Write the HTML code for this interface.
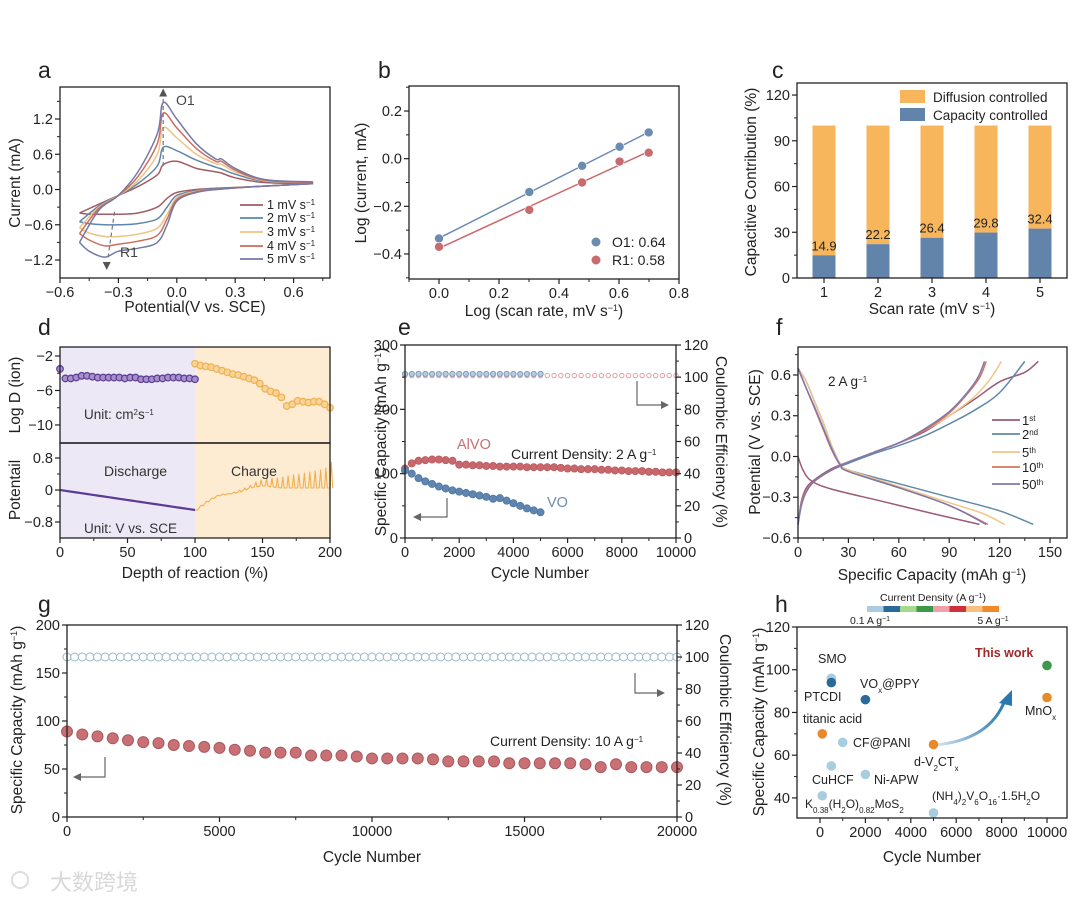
<!DOCTYPE html>
<html><head><meta charset="utf-8">
<style>
html,body{margin:0;padding:0;background:#fff;}
svg{display:block;font-family:"Liberation Sans","Noto Sans CJK SC",sans-serif;}
</style></head>
<body>
<svg id="fig" width="1080" height="903" viewBox="0 0 1080 903" xmlns="http://www.w3.org/2000/svg"></svg>
<script>
// ---------- DATA ----------
// panel a (CV)
const cvNames=['1 mV s<tspan baseline-shift="super" font-size="8">−1</tspan>','2 mV s<tspan baseline-shift="super" font-size="8">−1</tspan>','3 mV s<tspan baseline-shift="super" font-size="8">−1</tspan>','4 mV s<tspan baseline-shift="super" font-size="8">−1</tspan>','5 mV s<tspan baseline-shift="super" font-size="8">−1</tspan>'];
const cvColors=['#a35c62','#5f86aa','#ecc486','#cc6d5e','#737aa8'];
const cvUpX=[-0.5,-0.4,-0.3,-0.2,-0.1,-0.07,0,0.1,0.2,0.23,0.3,0.45,0.7];
const cvUp1=[-0.4,-0.25,-0.1,0.05,0.25,0.42,0.48,0.36,0.3,0.28,0.2,0.12,0.1];
const cvUp2=[-0.55,-0.28,-0.1,0.1,0.4,0.72,0.66,0.5,0.38,0.35,0.26,0.14,0.11];
const cvUp3=[-0.65,-0.3,-0.1,0.15,0.6,1.05,0.88,0.6,0.44,0.43,0.3,0.15,0.12];
const cvUp4=[-0.75,-0.32,-0.1,0.22,0.78,1.3,1.05,0.7,0.48,0.48,0.33,0.16,0.12];
const cvUp5=[-0.9,-0.35,-0.1,0.3,0.95,1.48,1.2,0.78,0.52,0.52,0.36,0.17,0.13];
const cvDnX=[0.7,0.4,0.2,0.1,0.0,-0.05,-0.1,-0.2,-0.3,-0.37,-0.45,-0.5];
const cvDn1=[0.1,0.05,0.02,0.0,-0.05,-0.15,-0.3,-0.4,-0.42,-0.42,-0.42,-0.4];
const cvDn2=[0.1,0.05,0.01,-0.02,-0.1,-0.3,-0.5,-0.58,-0.6,-0.6,-0.58,-0.55];
const cvDn3=[0.1,0.05,0.0,-0.03,-0.14,-0.42,-0.66,-0.76,-0.8,-0.8,-0.74,-0.65];
const cvDn4=[0.1,0.05,0.0,-0.04,-0.17,-0.5,-0.78,-0.88,-0.93,-0.96,-0.86,-0.75];
const cvDn5=[0.1,0.05,0.0,-0.05,-0.2,-0.6,-0.9,-1.0,-1.05,-1.15,-1.05,-0.9];
// panel b
const bX=[0,0.301,0.477,0.602,0.699];
const bO1=[-0.335,-0.14,-0.03,0.05,0.11];
const bR1=[-0.37,-0.215,-0.1,-0.012,0.025];
// panel c
const cRates=[1,2,3,4,5];
const cCap=[14.9,22.2,26.4,29.8,32.4];
// panel d
const dDisX=[0,4,8,12,16,20,24,28,32,36,40,44,48,52,56,60,64,68,72,76,80,84,88,92,96,100];
const dDisLogD=[-3.5,-4.6,-4.6,-4.5,-4.3,-4.3,-4.4,-4.5,-4.5,-4.5,-4.5,-4.5,-4.6,-4.5,-4.5,-4.7,-4.7,-4.7,-4.6,-4.6,-4.5,-4.5,-4.5,-4.6,-4.6,-4.7];
const dChX=[100,104,108,112,116,120,124,128,132,136,140,144,148,152,156,160,164,168,172,176,180,184,188,192,196,200];
const dChLogD=[-2.9,-3.1,-3.2,-3.3,-3.5,-3.7,-3.9,-4.1,-4.2,-4.4,-4.6,-4.8,-5.2,-5.8,-6.1,-6.3,-6.8,-7.8,-7.6,-7.2,-7.3,-7.4,-7.3,-7.3,-7.6,-8.0];
const dDisV=[0,-0.02,-0.04,-0.06,-0.08,-0.1,-0.12,-0.14,-0.16,-0.18,-0.2,-0.22,-0.24,-0.26,-0.28,-0.3,-0.32,-0.34,-0.36,-0.38,-0.4,-0.42,-0.44,-0.46,-0.48,-0.5];
const dChLow=[-0.5,-0.4,-0.3,-0.22,-0.15,-0.12,-0.1,-0.08,-0.05,0.0,0.05,0.08,0.1,0.1,0.08,0.06,0.05,0.05,0.05,0.05,0.05,0.05,0.05,0.05,0.05,0.05];
const dChHigh=[-0.5,-0.38,-0.28,-0.2,-0.13,-0.1,-0.08,-0.05,0.0,0.05,0.12,0.2,0.25,0.28,0.3,0.3,0.32,0.35,0.38,0.4,0.42,0.45,0.48,0.5,0.55,0.7];
// panel e
const eCycA=[0,250,500,750,1000,1250,1500,1750,2000,2250,2500,2750,3000,3250,3500,3750,4000,4250,4500,4750,5000,5250,5500,5750,6000,6250,6500,6750,7000,7250,7500,7750,8000,8250,8500,8750,9000,9250,9500,9750,10000];
const eAIVO=[108,116,120,121,122,122,121,120,114,114,113,113,112,112,111,111,111,111,110,110,110,110,110,109,108,108,107,107,107,106,106,105,105,104,104,104,103,103,102,102,102];
const eCycV=[0,250,500,750,1000,1250,1500,1750,2000,2250,2500,2750,3000,3250,3500,3750,4000,4250,4500,4750,5000];
const eVO=[105,100,93,88,84,80,77,74,72,70,68,66,64,61,62,58,54,50,46,43,40];
const eCEV=[102,102,102,102,102,102,102,102,102,102,102,102,102,102,102,102,102,102,102,102,102];
const eCEA=[101,101,101,101,101,101,101,101,101,101,101,101,101,101,101,101,101,101,101,101,101,101,101,101,101,101,101,101,101,101,101,101,101,101,101,101,101,101,101,101,101];
// panel f
const fNames=['1<tspan baseline-shift="super" font-size="8">st</tspan>','2<tspan baseline-shift="super" font-size="8">nd</tspan>','5<tspan baseline-shift="super" font-size="8">th</tspan>','10<tspan baseline-shift="super" font-size="8">th</tspan>','50<tspan baseline-shift="super" font-size="8">th</tspan>'];
const fColors=['#9a5a78','#5f8aa8','#f2c58a','#d4735e','#7e78b0'];
const fD1c=[0,3,8,20,50,80,108], fD1v=[0.0,-0.1,-0.18,-0.24,-0.33,-0.42,-0.5];
const fD2c=[0,5,10,15,20,25,30,60,90,120,140], fD2v=[0.65,0.55,0.4,0.25,0.08,-0.05,-0.1,-0.2,-0.3,-0.4,-0.5];
const fD5c=[0,5,10,15,20,25,30,60,90,110,123], fD5v=[0.65,0.55,0.4,0.25,0.08,-0.05,-0.1,-0.22,-0.34,-0.42,-0.5];
const fD10c=[0,5,10,15,20,25,30,60,90,113], fD10v=[0.65,0.5,0.35,0.2,0.05,-0.06,-0.11,-0.23,-0.36,-0.5];
const fD50c=[0,5,10,15,20,25,30,60,90,112], fD50v=[0.65,0.5,0.36,0.21,0.06,-0.06,-0.11,-0.23,-0.36,-0.5];
const fC1c=[0,2,5,10,20,30,45,60,75,90,105,120,135,143], fC1v=[-0.5,-0.33,-0.23,-0.17,-0.09,-0.04,0.03,0.1,0.18,0.3,0.42,0.55,0.62,0.7];
const fC2c=[0,2,5,10,20,30,45,60,75,90,105,120,135], fC2v=[-0.5,-0.35,-0.25,-0.18,-0.1,-0.05,0.02,0.08,0.15,0.24,0.34,0.47,0.7];
const fC5c=[0,2,5,10,20,30,45,60,75,90,105,115,121], fC5v=[-0.5,-0.35,-0.25,-0.18,-0.1,-0.04,0.03,0.1,0.19,0.3,0.44,0.58,0.7];
const fC10c=[0,2,5,10,20,30,45,60,75,90,100,108,112], fC10v=[-0.5,-0.35,-0.25,-0.18,-0.1,-0.04,0.03,0.1,0.19,0.32,0.45,0.58,0.7];
const fC50c=[0,2,5,10,20,30,45,60,75,90,100,107,111], fC50v=[-0.5,-0.36,-0.26,-0.18,-0.1,-0.04,0.03,0.1,0.2,0.33,0.46,0.58,0.7];
// panel g
const gCyc=[0,500,1000,1500,2000,2500,3000,3500,4000,4500,5000,5500,6000,6500,7000,7500,8000,8500,9000,9500,10000,10500,11000,11500,12000,12500,13000,13500,14000,14500,15000,15500,16000,16500,17000,17500,18000,18500,19000,19500,20000];
const gCap=[89,86,84,82,80,78,77,75,74,73,72,70,69,67,67,67,64,64,64,63,61,61,61,61,60,58,58,58,58,56,56,56,56,56,55,52,55,52,52,52,52];
const gCECyc=[0,250,500,750,1000,1250,1500,1750,2000,2250,2500,2750,3000,3250,3500,3750,4000,4250,4500,4750,5000,5250,5500,5750,6000,6250,6500,6750,7000,7250,7500,7750,8000,8250,8500,8750,9000,9250,9500,9750,10000,10250,10500,10750,11000,11250,11500,11750,12000,12250,12500,12750,13000,13250,13500,13750,14000,14250,14500,14750,15000,15250,15500,15750,16000,16250,16500,16750,17000,17250,17500,17750,18000,18250,18500,18750,19000,19250,19500,19750,20000];
const gCE=[100,100,100,100,100,100,100,100,100,100,100,100,100,100,100,100,100,100,100,100,100,100,100,100,100,100,100,100,100,100,100,100,100,100,100,100,100,100,100,100,100,100,100,100,100,100,100,100,100,100,100,100,100,100,100,100,100,100,100,100,100,100,100,100,100,100,100,100,100,100,100,100,100,100,100,100,100,100,100,100,100];
// panel h
const hNames=['SMO','PTCDI','VOx@PPY','titanic acid','CF@PANI','d-V2CTx','CuHCF','Ni-APW','K-MoS2','NH4-VO','This work','MnOx'];
const hCycles=[500,500,2000,100,1000,5000,500,2000,100,5000,10000,10000];
const hCaps=[96,94,86,70,66,65,55,51,41,33,102,87];
const hColors=['#a8cce0','#2a6a9a','#2a6a9a','#e88a2a','#a8cce0','#e88a2a','#a8cce0','#a8cce0','#a8cce0','#a8cce0','#3a9a48','#e88a2a'];
const cbColors=['#a8cce0','#2a6a9a','#a8d88a','#3a9a48','#f0a0a8','#d0303a','#f8c080','#f08a2a'];

// ---------- HELPERS ----------
const NS='http://www.w3.org/2000/svg';
const svg=document.getElementById('fig');
function mk(tag,attrs,name,parent){
  const e=document.createElementNS(NS,tag);
  for(const k in attrs) e.setAttribute(k,attrs[k]);
  
  
  (parent||svg).appendChild(e);return e;
}
function txt(x,y,s,size,name,opt){
  opt=opt||{};
  const t=mk('text',{x:x,y:y,'font-size':size,fill:opt.fill||'#222','text-anchor':opt.anchor||'start','font-weight':opt.weight||'normal'},name);
  if(opt.rot) t.setAttribute('transform','rotate('+opt.rot+' '+x+' '+y+')');
  t.innerHTML=s;return t;
}
function axes(x0,x1,y0,y1,xa,xb,ya,yb){
  return {x0,x1,y0,y1,sx:v=>x0+(v-xa)/(xb-xa)*(x1-x0),sy:v=>y1-(v-ya)/(yb-ya)*(y1-y0)};
}
function frame(P,name){mk('rect',{x:P.x0,y:P.y0,width:P.x1-P.x0,height:P.y1-P.y0,fill:'none',stroke:'#222','stroke-width':1.3},name);}
function xTicks(P,vals,labels,name,minor){
  vals.forEach((v,i)=>{const x=P.sx(v);
    mk('line',{x1:x,y1:P.y1,x2:x,y2:P.y1+5,stroke:'#222','stroke-width':1.2},name+'-tick');
    txt(x,P.y1+19,labels[i],14.5,name+'-label',{anchor:'middle'});});
  (minor||[]).forEach(v=>{const x=P.sx(v);mk('line',{x1:x,y1:P.y1,x2:x,y2:P.y1+3,stroke:'#222','stroke-width':1},name+'-minor-tick');});
}
function yTicks(P,vals,labels,name,minor,right){
  vals.forEach((v,i)=>{const y=P.sy(v);const xx=right?P.x1:P.x0;const d=right?5:-5;
    mk('line',{x1:xx,y1:y,x2:xx+d,y2:y,stroke:'#222','stroke-width':1.2},name+'-tick');
    txt(xx+(right?8:-7),y+5,labels[i],14.5,name+'-label',{anchor:right?'start':'end'});});
  (minor||[]).forEach(v=>{const y=P.sy(v);const xx=right?P.x1:P.x0;mk('line',{x1:xx,y1:y,x2:xx+(right?3:-3),y2:y,stroke:'#222','stroke-width':1},name+'-minor-tick');});
}
function poly(P,xs,ys,color,name,w){
  const pts=xs.map((x,i)=>P.sx(x).toFixed(1)+','+P.sy(ys[i]).toFixed(1)).join(' ');
  return mk('polyline',{points:pts,fill:'none',stroke:color,'stroke-width':w||1.4,'stroke-linejoin':'round'},name);
}
function smooth(P,xs,ys,color,name,w){
  const p=xs.map((x,i)=>[P.sx(x),P.sy(ys[i])]);
  let d='M'+p[0][0].toFixed(1)+','+p[0][1].toFixed(1);
  for(let i=0;i<p.length-1;i++){const a=p[i-1]||p[i],b=p[i],c=p[i+1],e=p[i+2]||c;
    d+=' C'+(b[0]+(c[0]-a[0])/6).toFixed(1)+','+(b[1]+(c[1]-a[1])/6).toFixed(1)+' '+(c[0]-(e[0]-b[0])/6).toFixed(1)+','+(c[1]-(e[1]-b[1])/6).toFixed(1)+' '+c[0].toFixed(1)+','+c[1].toFixed(1);}
  return mk('path',{d:d,fill:'none',stroke:color,'stroke-width':w||1.4},name);
}
function arrowHead(x,y,dir,color,name){
  const s=5;let pts;
  if(dir==='r')pts=[[x,y],[x-s*1.6,y-s*0.8],[x-s*1.6,y+s*0.8]];
  if(dir==='l')pts=[[x,y],[x+s*1.6,y-s*0.8],[x+s*1.6,y+s*0.8]];
  if(dir==='u')pts=[[x,y],[x-s*0.8,y+s*1.6],[x+s*0.8,y+s*1.6]];
  if(dir==='d')pts=[[x,y],[x-s*0.8,y-s*1.6],[x+s*0.8,y-s*1.6]];
  mk('polygon',{points:pts.map(p=>p.join(',')).join(' '),fill:color},name);
}
function letter(x,y,s){txt(x,y,s,23,'panel-label-'+s);}

// ---------- PANEL A ----------
letter(38,78,'a');
const A=axes(60,330,87,278,-0.6,0.787,-1.506,1.745);
const upSets=[cvUp1,cvUp2,cvUp3,cvUp4,cvUp5], dnSets=[cvDn1,cvDn2,cvDn3,cvDn4,cvDn5];
upSets.forEach((u,i)=>{smooth(A,cvUpX,u,cvColors[i],'cv-anodic-'+(i+1),1.5);smooth(A,cvDnX,dnSets[i],cvColors[i],'cv-cathodic-'+(i+1),1.5);});
mk('line',{x1:A.sx(-0.07),y1:A.sy(0.4),x2:A.sx(-0.07),y2:A.sy(1.6),stroke:'#6a7590','stroke-width':1.2,'stroke-dasharray':'4,3'},'o1-shift-line');
arrowHead(A.sx(-0.07),A.sy(1.72),'u','#555','o1-arrow');
mk('line',{x1:A.sx(-0.32),y1:A.sy(-0.38),x2:A.sx(-0.355),y2:A.sy(-1.2),stroke:'#6a7590','stroke-width':1.2,'stroke-dasharray':'4,3'},'r1-shift-line');
arrowHead(A.sx(-0.36),A.sy(-1.37),'d','#555','r1-arrow');
txt(176,105,'O1',14,'o1-label',{fill:'#444'});
txt(120,257,'R1',14,'r1-label',{fill:'#444'});
frame(A,'panel-a-frame');
xTicks(A,[-0.6,-0.3,0,0.3,0.6],['−0.6','−0.3','0.0','0.3','0.6'],'a-x',[-0.45,-0.15,0.15,0.45,0.75]);
yTicks(A,[-1.2,-0.6,0,0.6,1.2],['−1.2','−0.6','0.0','0.6','1.2'],'a-y',[-0.9,-0.3,0.3,0.9,1.5]);
txt(195,312,'Potential(V vs. SCE)',15.5,'a-x-title',{anchor:'middle'});
txt(20,183,'Current (mA)',15.5,'a-y-title',{anchor:'middle',rot:-90});
[205,218,232,246,259].forEach((y,i)=>{mk('line',{x1:240,y1:y,x2:263,y2:y,stroke:cvColors[i],'stroke-width':1.8},'a-legend-line-'+(i+1));txt(267,y+4,cvNames[i],12.5,'a-legend-entry-'+(i+1));});

// ---------- PANEL B ----------
letter(378,78,'b');
const B=axes(409,679,86,279,-0.1,0.8,-0.505,0.305);
function fitLine(xs,ys){const n=xs.length,mx=xs.reduce((a,b)=>a+b)/n,my=ys.reduce((a,b)=>a+b)/n;let sxy=0,sxx=0;xs.forEach((x,i)=>{sxy+=(x-mx)*(ys[i]-my);sxx+=(x-mx)*(x-mx);});const k=sxy/sxx;return [k,my-k*mx];}
[[bO1,'#6a8cb0','o1'],[bR1,'#c86a6e','r1']].forEach(([ys,c,n])=>{
  const [k,b0]=fitLine(bX,ys);
  mk('line',{x1:B.sx(0),y1:B.sy(b0),x2:B.sx(0.7),y2:B.sy(b0+k*0.7),stroke:c,'stroke-width':1.5},'b-fit-'+n);
  bX.forEach((x,i)=>mk('circle',{cx:B.sx(x),cy:B.sy(ys[i]),r:4.5,fill:c,stroke:'#fff','stroke-width':0.6},'b-point-'+n));
});
frame(B,'panel-b-frame');
xTicks(B,[0,0.2,0.4,0.6,0.8],['0.0','0.2','0.4','0.6','0.8'],'b-x',[-0.1,0.1,0.3,0.5,0.7]);
yTicks(B,[-0.4,-0.2,0,0.2],['−0.4','−0.2','0.0','0.2'],'b-y',[-0.5,-0.3,-0.1,0.1,0.3]);
txt(544,316,'Log (scan rate, mV s<tspan baseline-shift="super" font-size="9">−1</tspan>)',15.5,'b-x-title',{anchor:'middle'});
txt(366,183,'Log (current, mA)',15.5,'b-y-title',{anchor:'middle',rot:-90});
mk('circle',{cx:596,cy:242,r:4.5,fill:'#6a8cb0'},'b-legend-marker-o1');txt(612,247,'O1: 0.64',14,'b-legend-o1');
mk('circle',{cx:596,cy:260,r:4.5,fill:'#c86a6e'},'b-legend-marker-r1');txt(612,265,'R1: 0.58',14,'b-legend-r1');

// ---------- PANEL C ----------
letter(772,78,'c');
const C=axes(797,1067,83,278,0.5,5.5,0,127.9);
cRates.forEach((r,i)=>{const x=C.sx(r)-11.5;
  mk('rect',{x:x,y:C.sy(100),width:23,height:C.sy(cCap[i])-C.sy(100),fill:'#f8b65c'},'c-bar-diffusion-'+r);
  mk('rect',{x:x,y:C.sy(cCap[i]),width:23,height:C.sy(0)-C.sy(cCap[i]),fill:'#6283aa'},'c-bar-capacity-'+r);
  txt(C.sx(r),C.sy(cCap[i])-5,cCap[i].toFixed(1),13,'c-bar-value-'+r,{anchor:'middle'});});
frame(C,'panel-c-frame');
xTicks(C,cRates,['1','2','3','4','5'],'c-x');
yTicks(C,[0,30,60,90,120],['0','30','60','90','120'],'c-y',[15,45,75,105]);
txt(932,314,'Scan rate (mV s<tspan baseline-shift="super" font-size="9">−1</tspan>)',15.5,'c-x-title',{anchor:'middle'});
txt(756,182,'Capacitive Contribution (%)',15.5,'c-y-title',{anchor:'middle',rot:-90});
mk('rect',{x:900,y:90,width:25,height:13,fill:'#f8b65c'},'c-legend-swatch-diffusion');txt(933,102,'Diffusion controlled',13.5,'c-legend-diffusion');
mk('rect',{x:900,y:108,width:25,height:13,fill:'#6283aa'},'c-legend-swatch-capacity');txt(933,120,'Capacity controlled',13.5,'c-legend-capacity');

// ---------- PANEL D ----------
letter(38,335,'d');
const D1=axes(60,330,347,443,0,200,-12.09,-0.957);
const D2=axes(60,330,443,538,0,200,-1.2,1.175);
mk('rect',{x:60,y:347,width:D1.sx(100)-60,height:191,fill:'#ece8f5'},'d-discharge-region');
mk('rect',{x:D1.sx(100),y:347,width:330-D1.sx(100),height:191,fill:'#fdebd2'},'d-charge-region');
dDisX.forEach((x,i)=>mk('circle',{cx:D1.sx(x),cy:D1.sy(dDisLogD[i]),r:3.3,fill:'#a690cc',stroke:'#5c3c92','stroke-width':1.2},'d-logd-discharge-point'));
dChX.forEach((x,i)=>mk('circle',{cx:D1.sx(x),cy:D1.sy(dChLogD[i]),r:3.3,fill:'#f8d49a',stroke:'#f0b050','stroke-width':1.2},'d-logd-charge-point'));
poly(D2,dDisX,dDisV,'#5c3c92','d-discharge-potential',2.2);
const zz=[];const zv=[];dChX.forEach((x,i)=>{zz.push(x,x+1,x+2);zv.push(dChLow[i],dChHigh[i],dChLow[i]);});
poly(D2,zz,zv,'#f0b050','d-charge-potential',1.1);
mk('line',{x1:60,y1:443,x2:330,y2:443,stroke:'#222','stroke-width':1.3},'d-divider');
frame(D1,'panel-d-top-frame');frame(D2,'panel-d-bottom-frame');
xTicks(D2,[0,50,100,150,200],['0','50','100','150','200'],'d-x',[25,75,125,175]);
yTicks(D1,[-10,-6,-2],['−10','−6','−2'],'d-top-y',[-8,-4]);
yTicks(D2,[-0.8,0,0.8],['−0.8','0','0.8'],'d-bottom-y',[-0.4,0.4]);
txt(195,578,'Depth of reaction (%)',15.5,'d-x-title',{anchor:'middle'});
txt(20,395,'Log D (ion)',15.5,'d-top-y-title',{anchor:'middle',rot:-90});
txt(20,490,'Potentail',15.5,'d-bottom-y-title',{anchor:'middle',rot:-90});
txt(84,419,'Unit: cm<tspan baseline-shift="super" font-size="8">2</tspan>s<tspan baseline-shift="super" font-size="8">−1</tspan>',13.5,'d-unit-top',{fill:'#333'});
txt(104,476,'Discharge',14,'d-discharge-label',{fill:'#333'});
txt(231,476,'Charge',14,'d-charge-label',{fill:'#333'});
txt(84,533,'Unit: V vs. SCE',13.5,'d-unit-bottom',{fill:'#333'});

// ---------- PANEL E ----------
letter(398,335,'e');
const E=axes(405,676,345,538,0,10000,0,300);
const ER=axes(405,676,345,538,0,10000,0,120);
eCycA.forEach((x,i)=>mk('circle',{cx:E.sx(x),cy:ER.sy(eCEA[i]),r:2.2,fill:'#fff',stroke:'#e0a0a8','stroke-width':1},'e-ce-aivo-point'));
eCycV.forEach((x,i)=>mk('circle',{cx:E.sx(x),cy:ER.sy(eCEV[i]),r:2.6,fill:'#b8cce0',stroke:'#7f9dbc','stroke-width':1},'e-ce-vo-point'));
eCycA.forEach((x,i)=>mk('circle',{cx:E.sx(x),cy:E.sy(eAIVO[i]),r:3.6,fill:'#c8686c',stroke:'#b85a60','stroke-width':0.8},'e-aivo-point'));
eCycV.forEach((x,i)=>mk('circle',{cx:E.sx(x),cy:E.sy(eVO[i]),r:3.6,fill:'#5f86b0',stroke:'#4f76a0','stroke-width':0.8},'e-vo-point'));
frame(E,'panel-e-frame');
xTicks(E,[0,2000,4000,6000,8000,10000],['0','2000','4000','6000','8000','10000'],'e-x',[1000,3000,5000,7000,9000]);
yTicks(E,[0,100,200,300],['0','100','200','300'],'e-y-left',[50,150,250]);
yTicks(ER,[0,20,40,60,80,100,120],['0','20','40','60','80','100','120'],'e-y-right',[10,30,50,70,90,110],true);
txt(540,578,'Cycle Number',15.5,'e-x-title',{anchor:'middle'});
txt(386,442,'Specific Capacity (mAh g<tspan baseline-shift="super" font-size="9">−1</tspan>)',15.5,'e-y-left-title',{anchor:'middle',rot:-90});
txt(716,442,'Coulombic Efficiency (%)',15.5,'e-y-right-title',{anchor:'middle',rot:90});
txt(457,449,'AlVO',14.5,'e-aivo-label',{fill:'#c87070'});
txt(511,459,'Current Density: 2 A g<tspan baseline-shift="super" font-size="8">−1</tspan>',14,'e-current-density');
txt(547,507,'VO',14.5,'e-vo-label',{fill:'#6a8cb0'});
mk('polyline',{points:'447,498 447,517 420,517',fill:'none',stroke:'#666','stroke-width':1.2},'e-left-arrow');arrowHead(413,517,'l','#666','e-left-arrowhead');
mk('polyline',{points:'637,381 637,405 662,405',fill:'none',stroke:'#666','stroke-width':1.2},'e-right-arrow');arrowHead(669,405,'r','#666','e-right-arrowhead');

// ---------- PANEL F ----------
letter(776,335,'f');
const F=axes(798,1067,347,538,0,160.1,-0.6,0.806);
const fDis=[[fD1c,fD1v],[fD2c,fD2v],[fD5c,fD5v],[fD10c,fD10v],[fD50c,fD50v]];
const fCh=[[fC1c,fC1v],[fC2c,fC2v],[fC5c,fC5v],[fC10c,fC10v],[fC50c,fC50v]];
fDis.forEach((d,i)=>smooth(F,d[0],d[1],fColors[i],'f-discharge-curve-'+(i+1),1.5));
fCh.forEach((d,i)=>smooth(F,d[0],d[1],fColors[i],'f-charge-curve-'+(i+1),1.5));
frame(F,'panel-f-frame');
xTicks(F,[0,30,60,90,120,150],['0','30','60','90','120','150'],'f-x',[15,45,75,105,135]);
yTicks(F,[-0.6,-0.3,0,0.3,0.6],['−0.6','−0.3','0.0','0.3','0.6'],'f-y',[-0.45,-0.15,0.15,0.45,0.75]);
txt(932,580,'Specific Capacity (mAh g<tspan baseline-shift="super" font-size="9">−1</tspan>)',15.5,'f-x-title',{anchor:'middle'});
txt(760,442,'Potential (V vs. SCE)',15.5,'f-y-title',{anchor:'middle',rot:-90});
txt(828,386,'2 A g<tspan baseline-shift="super" font-size="8">−1</tspan>',13.5,'f-current-density');
[420,434,452,467,484].forEach((y,i)=>{mk('line',{x1:992,y1:y,x2:1020,y2:y,stroke:fColors[i],'stroke-width':1.8},'f-legend-line-'+(i+1));txt(1022,y+5,fNames[i],13,'f-legend-entry-'+(i+1));});

// ---------- PANEL G ----------
letter(38,612,'g');
const G=axes(67,677,625,817,0,20000,0,200);
const GR=axes(67,677,625,817,0,20000,0,120);
gCECyc.forEach((x,i)=>mk('circle',{cx:G.sx(x),cy:GR.sy(gCE[i]),r:4,fill:'#fff',stroke:'#9ab8c8','stroke-width':1},'g-ce-point'));
gCyc.forEach((x,i)=>mk('circle',{cx:G.sx(x),cy:G.sy(gCap[i]),r:5.5,fill:'#c87074',stroke:'#a85a60','stroke-width':1},'g-capacity-point'));
frame(G,'panel-g-frame');
xTicks(G,[0,5000,10000,15000,20000],['0','5000','10000','15000','20000'],'g-x',[2500,7500,12500,17500]);
yTicks(G,[0,50,100,150,200],['0','50','100','150','200'],'g-y-left',[25,75,125,175]);
yTicks(GR,[0,20,40,60,80,100,120],['0','20','40','60','80','100','120'],'g-y-right',[10,30,50,70,90,110],true);
txt(372,862,'Cycle Number',15.5,'g-x-title',{anchor:'middle'});
txt(22,720,'Specific Capacity (mAh g<tspan baseline-shift="super" font-size="9">−1</tspan>)',15.5,'g-y-left-title',{anchor:'middle',rot:-90});
txt(720,720,'Coulombic Efficiency (%)',15.5,'g-y-right-title',{anchor:'middle',rot:90});
txt(490,746,'Current Density: 10 A g<tspan baseline-shift="super" font-size="8">−1</tspan>',14,'g-current-density');
mk('polyline',{points:'105,757 105,777 80,777',fill:'none',stroke:'#666','stroke-width':1.2},'g-left-arrow');arrowHead(73,777,'l','#666','g-left-arrowhead');
mk('polyline',{points:'635,673 635,693 658,693',fill:'none',stroke:'#666','stroke-width':1.2},'g-right-arrow');arrowHead(665,693,'r','#666','g-right-arrowhead');

// ---------- PANEL H ----------
letter(775,612,'h');
const H=axes(797,1067,627,818,-1013,10881,30.6,120);
txt(933,601,'Current Density (A g<tspan baseline-shift="super" font-size="7">−1</tspan>)',10.5,'h-colorbar-title',{anchor:'middle'});
cbColors.forEach((c,i)=>mk('rect',{x:867+i*16.5,y:606,width:16.5,height:6,fill:c},'h-colorbar-segment'));
txt(870,624,'0.1 A g<tspan baseline-shift="super" font-size="7">−1</tspan>',10.5,'h-colorbar-min',{anchor:'middle'});
txt(993,624,'5 A g<tspan baseline-shift="super" font-size="7">−1</tspan>',10.5,'h-colorbar-max',{anchor:'middle'});
const defs=mk('defs',{},'h-defs');
const lg=mk('linearGradient',{id:'arrg',x1:'0',y1:'0',x2:'1',y2:'0'},'h-arrow-gradient',defs);
mk('stop',{offset:'0','stop-color':'#d8e8f2'},'h-grad-stop',lg);mk('stop',{offset:'1','stop-color':'#2a78b0'},'h-grad-stop',lg);
mk('path',{d:'M935,745 Q990,740 1005,700',fill:'none',stroke:'url(#arrg)','stroke-width':3},'h-trend-arrow');
mk('polygon',{points:'1012,690 999,703 1012,706',fill:'#2a78b0'},'h-trend-arrowhead');
hCycles.forEach((x,i)=>mk('circle',{cx:H.sx(x),cy:H.sy(hCaps[i]),r:4.8,fill:hColors[i]},'h-point-'+hNames[i].replace(/[^a-zA-Z0-9]+/g,'-').toLowerCase()));
frame(H,'panel-h-frame');
xTicks(H,[0,2000,4000,6000,8000,10000],['0','2000','4000','6000','8000','10000'],'h-x',[1000,3000,5000,7000,9000]);
yTicks(H,[40,60,80,100,120],['40','60','80','100','120'],'h-y',[50,70,90,110]);
txt(932,862,'Cycle Number',15.5,'h-x-title',{anchor:'middle'});
txt(764,722,'Specific Capacity (mAh g<tspan baseline-shift="super" font-size="9">−1</tspan>)',15.5,'h-y-title',{anchor:'middle',rot:-90});
const sub=s=>'<tspan baseline-shift="sub" font-size="8">'+s+'</tspan>';
txt(818,663,'SMO',12.5,'h-label-smo');
txt(804,701,'PTCDI',12.5,'h-label-ptcdi');
txt(860,688,'VO'+sub('x')+'@PPY',12.5,'h-label-vox-ppy');
txt(803,723,'titanic acid',12.5,'h-label-titanic-acid');
txt(853,747,'CF@PANI',12.5,'h-label-cf-pani');
txt(914,766,'d-V'+sub('2')+'CT'+sub('x'),12.5,'h-label-d-v2ctx');
txt(812,784,'CuHCF',12.5,'h-label-cuhcf');
txt(874,784,'Ni-APW',12.5,'h-label-ni-apw');
txt(805,808,'K'+sub('0.38')+'(H'+sub('2')+'O)'+sub('0.82')+'MoS'+sub('2'),12,'h-label-k-mos2');
txt(932,800,'(NH'+sub('4')+')'+sub('2')+'V'+sub('6')+'O'+sub('16')+'·1.5H'+sub('2')+'O',12,'h-label-nh4-vo');
txt(975,657,'This work',12.5,'h-label-this-work',{fill:'#a0282a',weight:'bold'});
txt(1025,715,'MnO'+sub('x'),12.5,'h-label-mnox');

// watermark
mk('circle',{cx:20,cy:880,r:8,fill:'none',stroke:'#ddd','stroke-width':2},'watermark-logo');
txt(50,890,'大数跨境',22,'watermark-text',{fill:'#d8d8d8'});
</script>
</body></html>
